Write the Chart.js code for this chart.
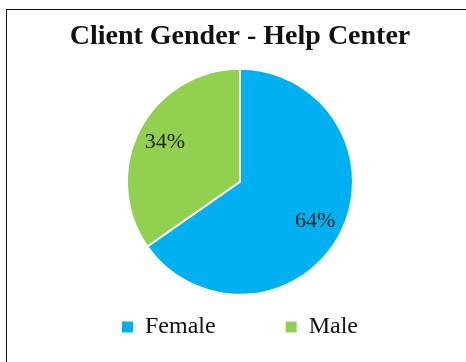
<!DOCTYPE html>
<html>
<head>
<meta charset="utf-8">
<script src="https://cdn.jsdelivr.net/npm/chart.js@4.4.1/dist/chart.umd.min.js"></script>
<style>
  html, body { margin: 0; padding: 0; background: #fff; }
  #wrap { position: relative; width: 466px; height: 362px; overflow: hidden; }
  /* thin frame along the top and left edges */
  #frame { position: absolute; left: 6px; top: 9px; width: 480px; height: 380px;
           border-top: 1px solid #111; border-left: 1px solid #111; }
  canvas { position: absolute; left: 0; top: 0; }
</style>
</head>
<body>
<div id="wrap">
  <div id="frame"></div>
  <canvas id="genderChart" width="466" height="362"></canvas>
</div>
<script>
const labels = ['Female', 'Male'];
const percentages = [64, 34];
const colors = ['#00B0F0', '#92D050'];
const chartTitle = 'Client Gender - Help Center';

const serif = "'Liberation Serif', 'Times New Roman', serif";
const legendGap = '          '; // extra room between the two legend entries

// writes the percentage inside each slice
const sliceLabels = {
  id: 'sliceLabels',
  afterDatasetsDraw(chart) {
    const ctx = chart.ctx;
    const meta = chart.getDatasetMeta(0);
    ctx.save();
    ctx.font = '22px ' + serif;
    ctx.fillStyle = '#222';
    ctx.textAlign = 'center';
    ctx.textBaseline = 'middle';
    meta.data.forEach((arc, i) => {
      const p = arc.getProps(['x', 'y', 'startAngle', 'endAngle', 'outerRadius'], true);
      const mid = (p.startAngle + p.endAngle) / 2;
      const r = p.outerRadius * 0.75;
      ctx.fillText(percentages[i] + '%', p.x + Math.cos(mid) * r, p.y + Math.sin(mid) * r);
    });
    ctx.restore();
  }
};

new Chart(document.getElementById('genderChart'), {
  type: 'pie',
  data: {
    labels: labels,
    datasets: [{
      data: percentages,
      backgroundColor: colors,
      borderColor: '#fff',
      borderWidth: 2,
      radius: 113,
      clip: false
    }]
  },
  options: {
    responsive: false,
    animation: false,
    layout: { padding: { top: 0, left: 14, right: 0, bottom: 13 } },
    plugins: {
      title: {
        display: true,
        text: chartTitle,
        color: '#111',
        font: { family: serif, size: 28, weight: 'bold' },
        padding: { top: 20, bottom: 5 }
      },
      legend: {
        position: 'bottom',
        labels: {
          color: '#111',
          font: { family: serif, size: 24 },
          boxWidth: 11,
          boxHeight: 11,
          padding: 10,
          generateLabels(chart) {
            const items = Chart.overrides.pie.plugins.legend.labels.generateLabels(chart);
            return items.map((item, i) => Object.assign(item, {
              text: i < items.length - 1 ? item.text + legendGap : item.text,
              lineWidth: 0
            }));
          }
        }
      },
      tooltip: { enabled: false }
    }
  },
  plugins: [sliceLabels]
});
</script>
</body>
</html>
